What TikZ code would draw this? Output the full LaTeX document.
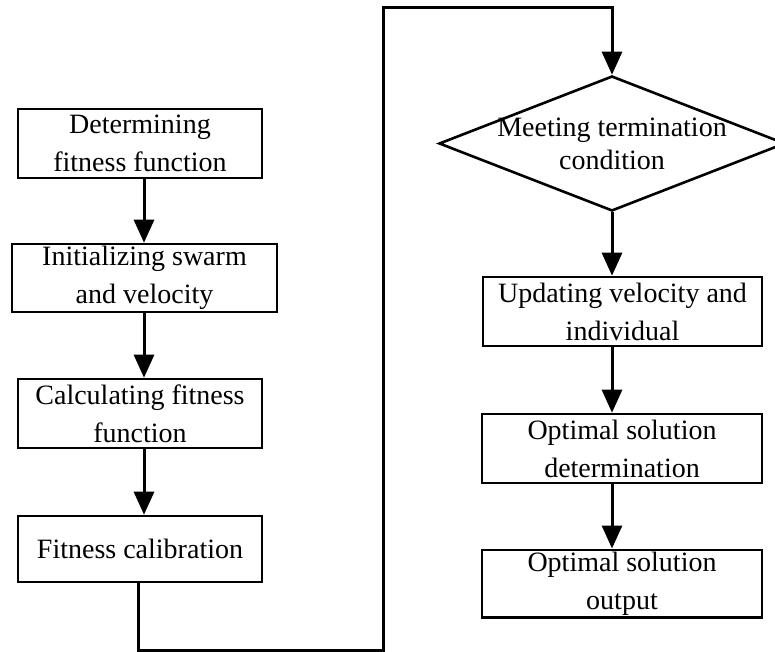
\documentclass[tikz,border=0pt]{standalone}
\usepackage{fontspec}
\setmainfont{Liberation Serif}
\usetikzlibrary{arrows.meta,shapes.geometric}
\tikzset{
 stepbox/.style={draw, line width=1.3pt, inner sep=1pt, align=center, font=\fontsize{14}{19}\selectfont},
 decision/.style={draw, diamond, line width=1.3pt, inner sep=-12pt, aspect=2.56, align=center, font=\fontsize{14}{16.5}\selectfont},
 flow/.style={line width=1.5pt, -{Triangle[length=11.5pt,width=10pt]}}
}
\begin{document}
\begin{tikzpicture}[x=0.5pt, y=-0.5pt, line join=miter]
 \useasboundingbox (0,0) rectangle (775,652);
 % left column
 \node[stepbox, minimum width=122pt, minimum height=34.5pt] (fitfun) at (140,143.5) {Determining\\fitness function};
 \node[stepbox, minimum width=132.5pt, minimum height=34pt] (swarm) at (144.5,278) {Initializing swarm\\and velocity};
 \node[stepbox, minimum width=122pt, minimum height=34.5pt] (calc) at (140,413.5) {Calculating fitness\\function};
 \node[stepbox, minimum width=122pt, minimum height=33pt] (calib) at (140,549) {Fitness calibration};
 % right column
 \node[decision, minimum width=173pt, minimum height=67.5pt] (meet) at (612,143.5) {Meeting termination\\condition};
 \node[stepbox, minimum width=139.5pt, minimum height=34.5pt] (update) at (622.5,311.5) {Updating velocity and\\individual};
 \node[stepbox, minimum width=140pt, minimum height=34.5pt] (optdet) at (622,448.5) {Optimal solution\\determination};
 \node[stepbox, minimum width=140pt, minimum height=33.5pt] (optout) at (622,583.5) {Optimal solution\\output};
 % arrow columns and turns
 \coordinate (lx) at (144,0);
 \coordinate (rx) at (612,0);
 \coordinate (ox) at (138,0);
 \coordinate (lowturn) at (383,650);
 \coordinate (topturn) at (383,8);
 \draw[flow] (fitfun.south -| lx) -- (swarm.north -| lx);
 \draw[flow] (swarm.south -| lx) -- (calc.north -| lx);
 \draw[flow] (calc.south -| lx) -- (calib.north -| lx);
 \draw[flow] (calib.south -| ox) |- (lowturn) -- (topturn) -| (meet.north);
 \draw[flow] (meet.south) -- (update.north -| rx);
 \draw[flow] (update.south -| rx) -- (optdet.north -| rx);
 \draw[flow] (optdet.south -| rx) -- (optout.north -| rx);
\end{tikzpicture}
\end{document}
